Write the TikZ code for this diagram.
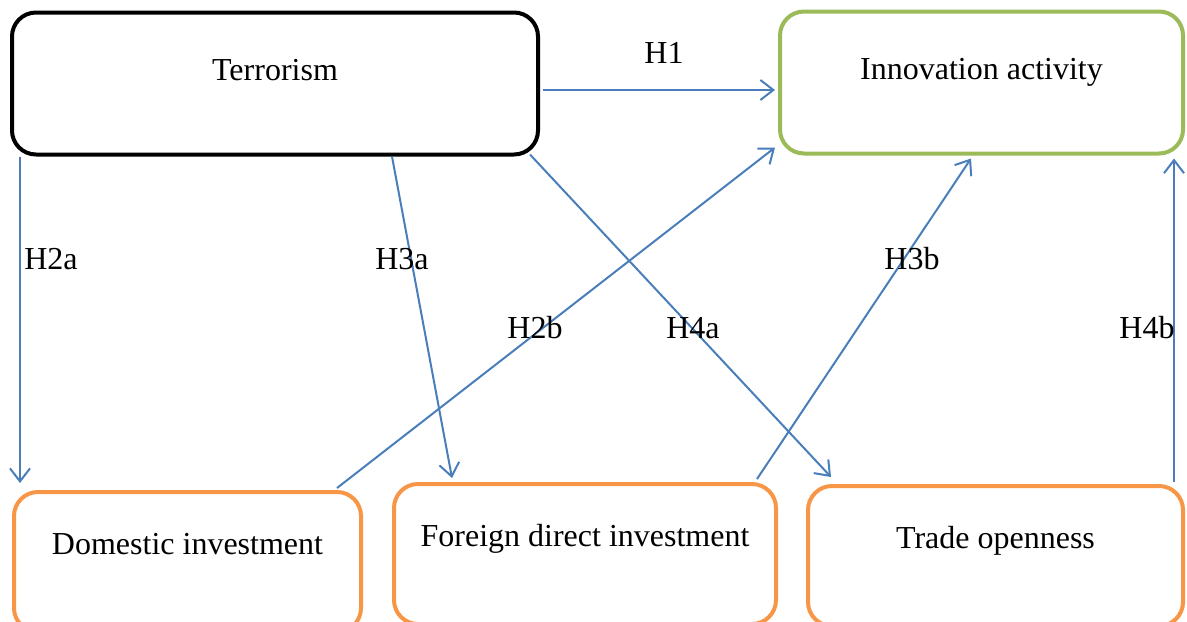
\documentclass[tikz,border=0pt]{standalone}
\usepackage{fontspec}
\setmainfont{Liberation Serif}
\usetikzlibrary{arrows.meta}

\definecolor{arrowblue}{HTML}{4A7EBB}
\definecolor{boxgreen}{HTML}{9BBB59}
\definecolor{boxorange}{HTML}{F79646}

\tikzset{
	topbox/.style={draw, rounded corners=12pt, line width=2pt, text height=11pt, text depth=14.5pt, minimum height=71pt},
	botbox/.style={draw=boxorange, rounded corners=12pt, line width=2pt, text height=11pt, text depth=19pt, minimum height=70pt},
	hyp/.style={anchor=base, inner sep=0pt},
}

\begin{document}
\begin{tikzpicture}[x=0.5pt, y=-0.5pt, >={Straight Barb[length=6.5pt,width=10pt]}, font=\fontsize{16}{19}\selectfont]
		\useasboundingbox (0,0) rectangle (1187,621);
		\clip (0,0) rectangle (1187,621);
		%boxes
		\node [topbox, minimum width=263pt] (terror) at (275,83.5) {Terrorism};
		\node [topbox, draw=boxgreen, minimum width=201.5pt] (innov) at (981.5,82.5) {Innovation activity};
		\node [botbox, minimum width=173.5pt] (dom) at (187.5,562) {Domestic investment};
		\node [botbox, minimum width=191pt] (fdi) at (585,554) {Foreign direct investment};
		\node [botbox, minimum width=187.5pt] (trade) at (995.5,556) {Trade openness};
		%arrows
		\begin{scope}[draw=arrowblue, line width=1pt]
		\draw [->] ([xshift=1.5pt,yshift=-3.25pt]terror.east) -- ([xshift=-1.5pt,yshift=-3.75pt]innov.west);
		\draw [->] ([xshift=5pt]terror.south west) -- ([xshift=4pt,yshift=3.5pt]dom.north west);
		\draw [->] ([xshift=58.5pt]terror.south) -- ([xshift=-66.5pt,yshift=2pt]fdi.north);
		\draw [->] ([xshift=-5pt,yshift=1pt]terror.south east) -- ([xshift=12.5pt,yshift=3.5pt]trade.north west);
		\draw [->] ([xshift=-13pt,yshift=1pt]dom.north east) -- ([xshift=-1.5pt,yshift=4pt]innov.south west);
		\draw [->] ([xshift=-10.5pt,yshift=1.5pt]fdi.north east) -- ([xshift=-5.25pt,yshift=-1.5pt]innov.south);
		\draw [->] ([xshift=-5.5pt,yshift=1pt]trade.north east) -- ([xshift=-5.5pt,yshift=-1.5pt]innov.south east);
		\end{scope}
		%labels
		\node [hyp] (h1) at (664,63) {H1};
		\node [hyp] (h2a) at (51,269) {H2a};
		\node [hyp] (h3a) at (402,269) {H3a};
		\node [hyp] (h3b) at (912,269) {H3b};
		\node [hyp] (h2b) at (535,338) {H2b};
		\node [hyp] (h4a) at (693,338) {H4a};
		\node [hyp] (h4b) at (1147,338) {H4b};
	\end{tikzpicture}
\end{document}
